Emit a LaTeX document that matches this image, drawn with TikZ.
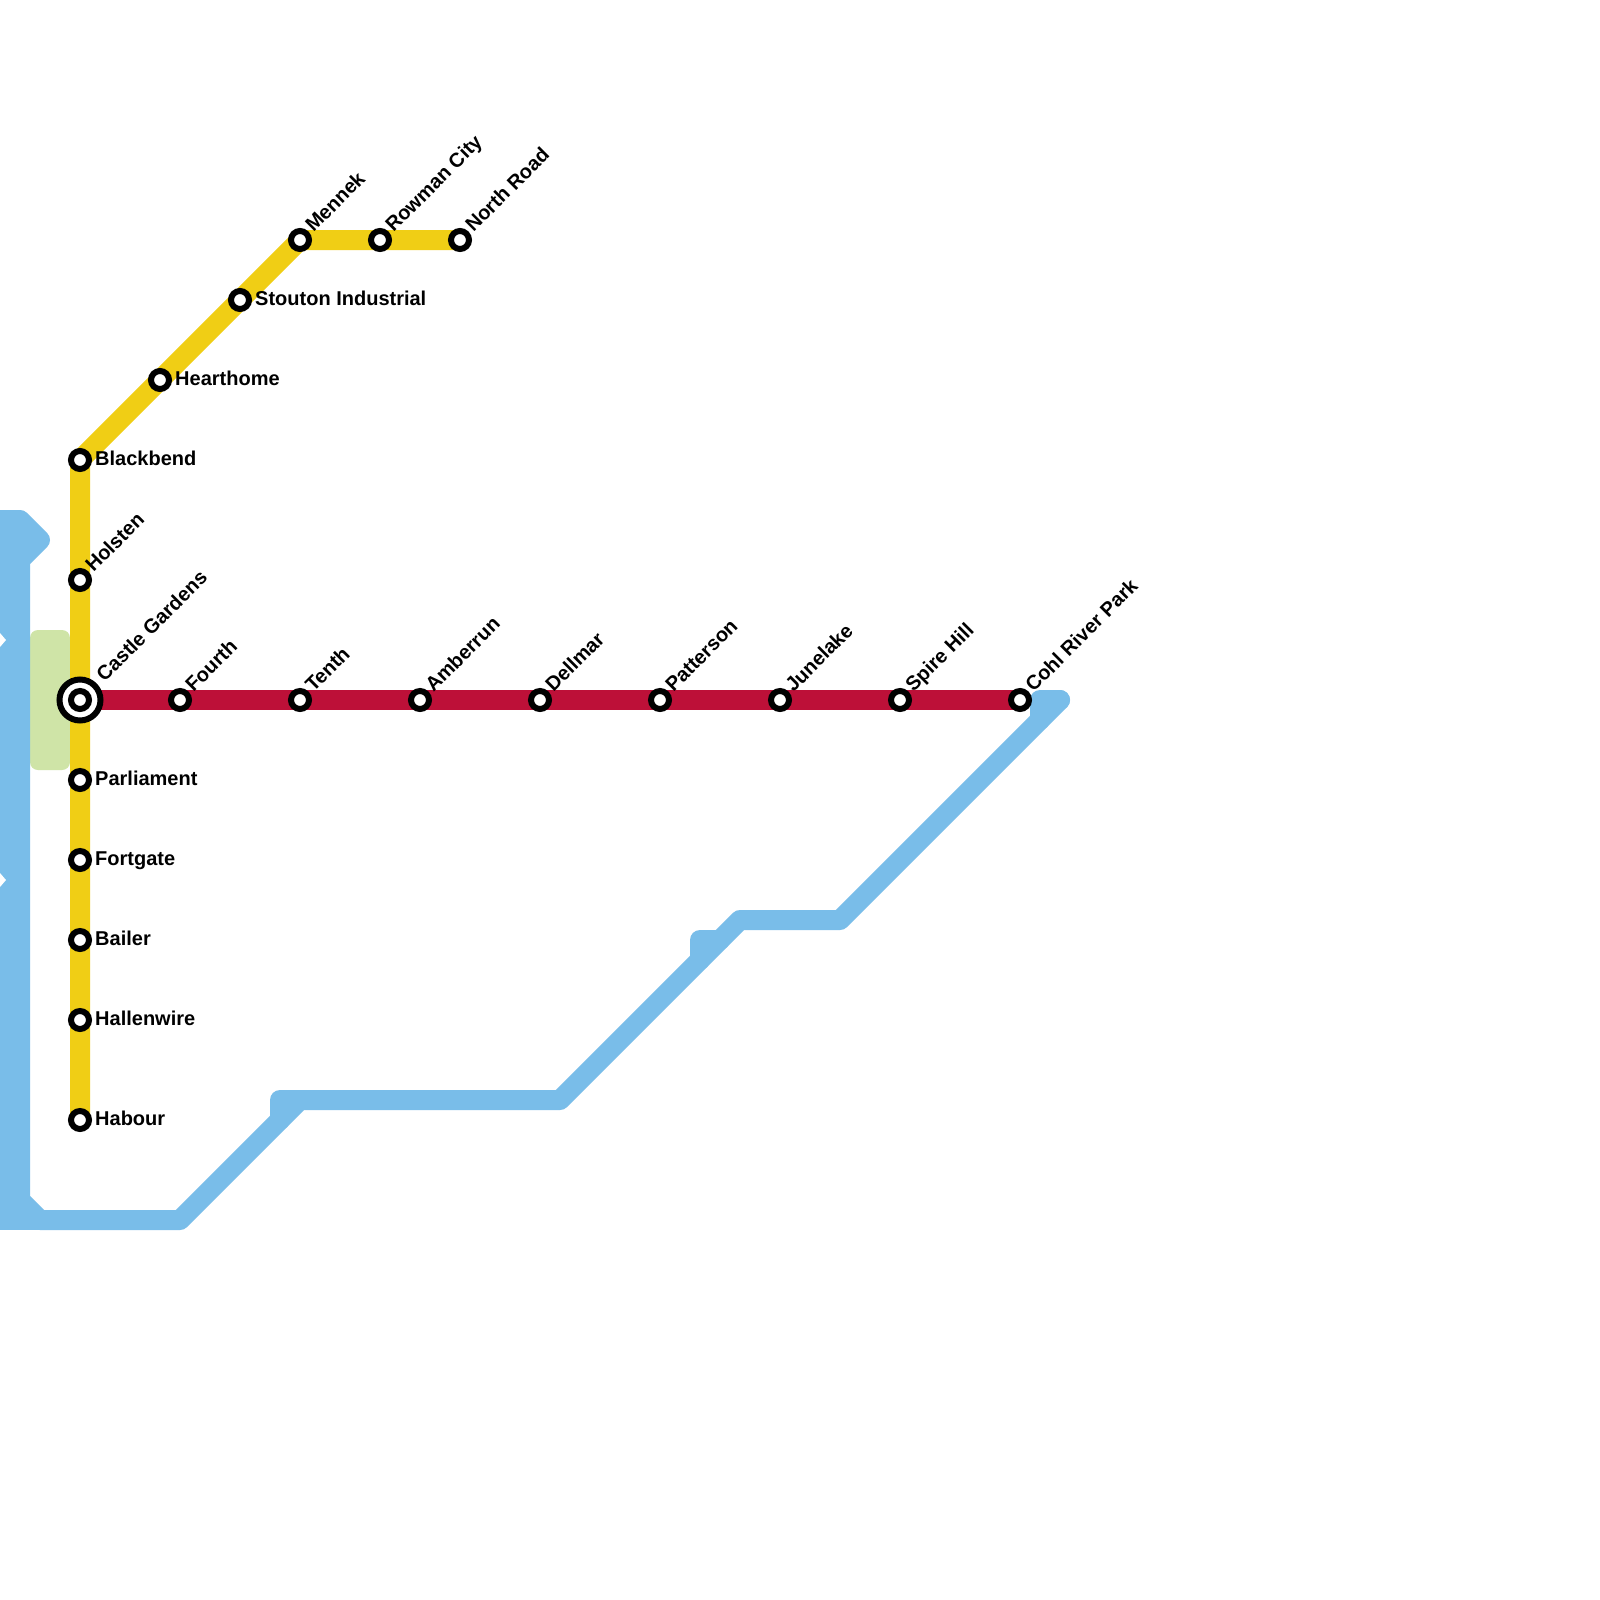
\documentclass[tikz,border=0pt]{standalone}
\usepackage{fontspec}
\usetikzlibrary{backgrounds}
\setmainfont{Liberation Sans}
\definecolor{lineyellow}{HTML}{F0CE15}
\definecolor{linered}{HTML}{BD1038}
\definecolor{lineblue}{HTML}{79BDE9}
\definecolor{parkgreen}{HTML}{CFE4A7}
\tikzset{
  metro/.style={line width=20pt,line join=round,line cap=round},
  stationdot/.style={circle,draw=black,fill=white,line width=6pt,minimum size=18pt,inner sep=0pt},
  hubring/.style={circle,draw=black,fill=white,line width=6pt,minimum size=41pt,inner sep=0pt},
  sidelabel/.style={font=\fontsize{20}{24}\selectfont\bfseries,inner sep=0pt,anchor=base west,text=black},
  diaglabel/.style={sidelabel,rotate=45},
}
\begin{document}
\begin{tikzpicture}[x=1pt,y=-1pt]
\useasboundingbox (0,0) rectangle (1600,1600);
% blue way-points
\coordinate (b1) at (1060,700);
\coordinate (b0) at (1040,720);
\coordinate (b0a) at (1040,700);
\coordinate (b2) at (840,920);
\coordinate (b3) at (740,920);
\coordinate (b4) at (560,1100);
\coordinate (b5) at (300,1100);
\coordinate (b6) at (180,1220);
\coordinate (b7) at (40,1220);
\coordinate (b8) at (20,1200);
\coordinate (b9) at (20,560);
\coordinate (b10) at (40,540);
\coordinate (b11) at (20,520);
\coordinate (b12) at (0,520);
\coordinate (b13) at (0,1220);
\coordinate (s1) at (720,940);
\coordinate (s2) at (700,940);
\coordinate (s3) at (700,960);
\coordinate (t1) at (280,1120);
\coordinate (t2) at (280,1100);
\coordinate (cg) at (80,700);
% stations
\node[stationdot] (blackbend) at (80,460) {};
\node[stationdot] (holsten) at (80,580) {};
\node[stationdot] (parliament) at (80,780) {};
\node[stationdot] (fortgate) at (80,860) {};
\node[stationdot] (bailer) at (80,940) {};
\node[stationdot] (hallenwire) at (80,1020) {};
\node[stationdot] (habour) at (80,1120) {};
\node[stationdot] (hearthome) at (160,380) {};
\node[stationdot] (stouton) at (240,300) {};
\node[stationdot] (mennek) at (300,240) {};
\node[stationdot] (rowman) at (380,240) {};
\node[stationdot] (north) at (460,240) {};
\node[stationdot] (fourth) at (180,700) {};
\node[stationdot] (tenth) at (300,700) {};
\node[stationdot] (amberrun) at (420,700) {};
\node[stationdot] (dellmar) at (540,700) {};
\node[stationdot] (patterson) at (660,700) {};
\node[stationdot] (junelake) at (780,700) {};
\node[stationdot] (spire) at (900,700) {};
\node[stationdot] (cohl) at (1020,700) {};
\node[hubring] (castlering) at (cg) {};
\node[stationdot] (castle) at (cg) {};
% labels
\node[sidelabel] (lblackbend) at (95,465) {Blackbend};
\node[sidelabel] (lparliament) at (95,785) {Parliament};
\node[sidelabel] (lfortgate) at (95,865) {Fortgate};
\node[sidelabel] (lbailer) at (95,945) {Bailer};
\node[sidelabel] (lhallenwire) at (95,1025) {Hallenwire};
\node[sidelabel] (lhabour) at (95,1125) {Habour};
\node[sidelabel] (lhearthome) at (175,385) {Hearthome};
\node[sidelabel] (lstouton) at (255,305) {Stouton Industrial};
\node[diaglabel] (lholsten) at (93.5,573) {Holsten};
\node[diaglabel] (lcastle) at (104.5,683) {Castle Gardens};
\node[diaglabel] (lfourth) at (193.5,693) {Fourth};
\node[diaglabel] (ltenth) at (313.5,693) {Tenth};
\node[diaglabel] (lamberrun) at (433.5,693) {Amberrun};
\node[diaglabel] (ldellmar) at (553.5,693) {Dellmar};
\node[diaglabel] (lpatterson) at (673.5,693) {Patterson};
\node[diaglabel] (ljunelake) at (793.5,693) {Junelake};
\node[diaglabel] (lspire) at (913.5,693) {Spire Hill};
\node[diaglabel] (lcohl) at (1033.5,693) {Cohl River Park};
\node[diaglabel] (lmennek) at (313.5,233) {Mennek};
\node[diaglabel] (lrowman) at (393.5,233) {Rowman City};
\node[diaglabel] (lnorth) at (473.5,233) {North Road};
\begin{scope}[on background layer]
\clip (0,0) rectangle (1600,1600);
\fill[white] (0,0) rectangle (1600,1600);
\fill[parkgreen,rounded corners=8pt] (30,630) rectangle (70,770);
\fill[lineblue] (0,520) rectangle (30,1220);
\draw[metro,lineblue] (b1) -- (b2) -- (b3) -- (b4) -- (b5) -- (b6) -- (b7) -- (b8) -- (b9) -- (b10) -- (b11) -- (b12);
\draw[metro,lineblue] (b12) -- (b13) -- (b7);
\draw[metro,lineblue] (b0) -- (b0a) -- (b1);
\draw[metro,lineblue] (s1) -- (s2) -- (s3);
\draw[metro,lineblue] (t1) -- (t2) -- (b5);
\fill[white] (0,633) -- (6,640) -- (0,647) -- cycle;
\fill[white] (0,873) -- (6,880) -- (0,887) -- cycle;
\draw[line width=20pt,lineyellow,line join=round] (habour.center) -- (hallenwire.center) -- (bailer.center) -- (fortgate.center) -- (parliament.center) -- (cg) -- (holsten.center) -- (blackbend.center) -- (hearthome.center) -- (stouton.center) -- (mennek.center) -- (rowman.center) -- (north.center);
\draw[line width=20pt,linered] (cg) -- (fourth.center) -- (tenth.center) -- (amberrun.center) -- (dellmar.center) -- (patterson.center) -- (junelake.center) -- (spire.center) -- (cohl.center);
\end{scope}
\end{tikzpicture}
\end{document}
